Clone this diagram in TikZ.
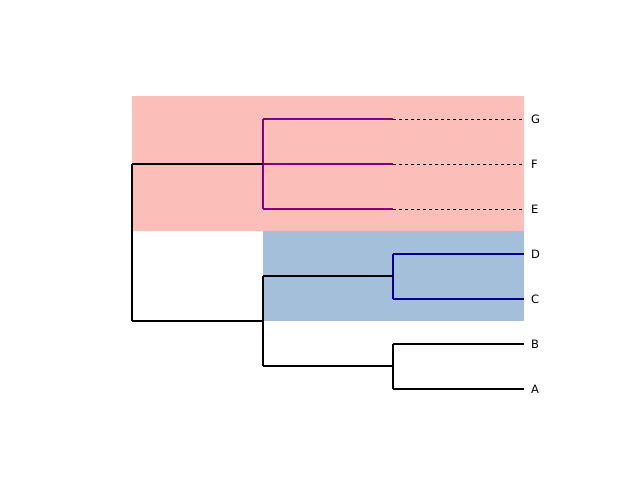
\documentclass[tikz,border=0pt]{standalone}
\usepackage{fontspec}
\setmainfont{DejaVu Sans}
\definecolor{pinkbg}{HTML}{FBBEB8}
\definecolor{bluebg}{HTML}{A3BFD9}
\definecolor{purp}{HTML}{800080}
\definecolor{navy}{HTML}{00008B}
\begin{document}
\begin{tikzpicture}[x=1pt,y=-1pt,
  br/.style={line width=2.2pt},
  lbl/.style={anchor=west,font=\fontsize{11.5}{12}\selectfont,inner sep=0pt},
  dsh/.style={dashed,line width=0.8pt}]
\useasboundingbox (0,0) rectangle (640,480);
\fill[pinkbg] (132,96) rectangle (524,231);
\fill[bluebg] (263,231) rectangle (524,321);
% leaf coordinates
\foreach \n/\y in {G/119,F/164,E/209,D/254,C/299,B/344,A/389}{
  \coordinate (\n) at (524,\y);
  \node[lbl] (l\n) at (531,\y) {\n};
}
\coordinate (gfe) at (263,164);
\coordinate (dc) at (393,276);
\coordinate (ba) at (393,366);
\coordinate (dcba) at (263,321);
\coordinate (root) at (132,242.5);
% purple cluster
\draw[br,purp] (263,119) -- (263,209);
\foreach \n in {G,F,E}{
  \draw[br,purp] (263,0 |- \n) -- (393,0 |- \n);
  \draw[dsh] (393,0 |- \n) -- (\n);
}
% navy cluster
\draw[br,navy] (393,254) -- (393,299);
\draw[br,navy] (393,254) -- (D);
\draw[br,navy] (393,299) -- (C);
% black
\draw[br] (393,344) -- (393,389);
\draw[br] (393,344) -- (B);
\draw[br] (393,389) -- (A);
\draw[br] (263,276) -- (dc);
\draw[br] (263,366) -- (ba);
\draw[br] (263,276) -- (263,366);
\draw[br] (132,164) -- (gfe);
\draw[br] (132,321) -- (dcba);
\draw[br] (132,164) -- (132,321);
\end{tikzpicture}
\end{document}
